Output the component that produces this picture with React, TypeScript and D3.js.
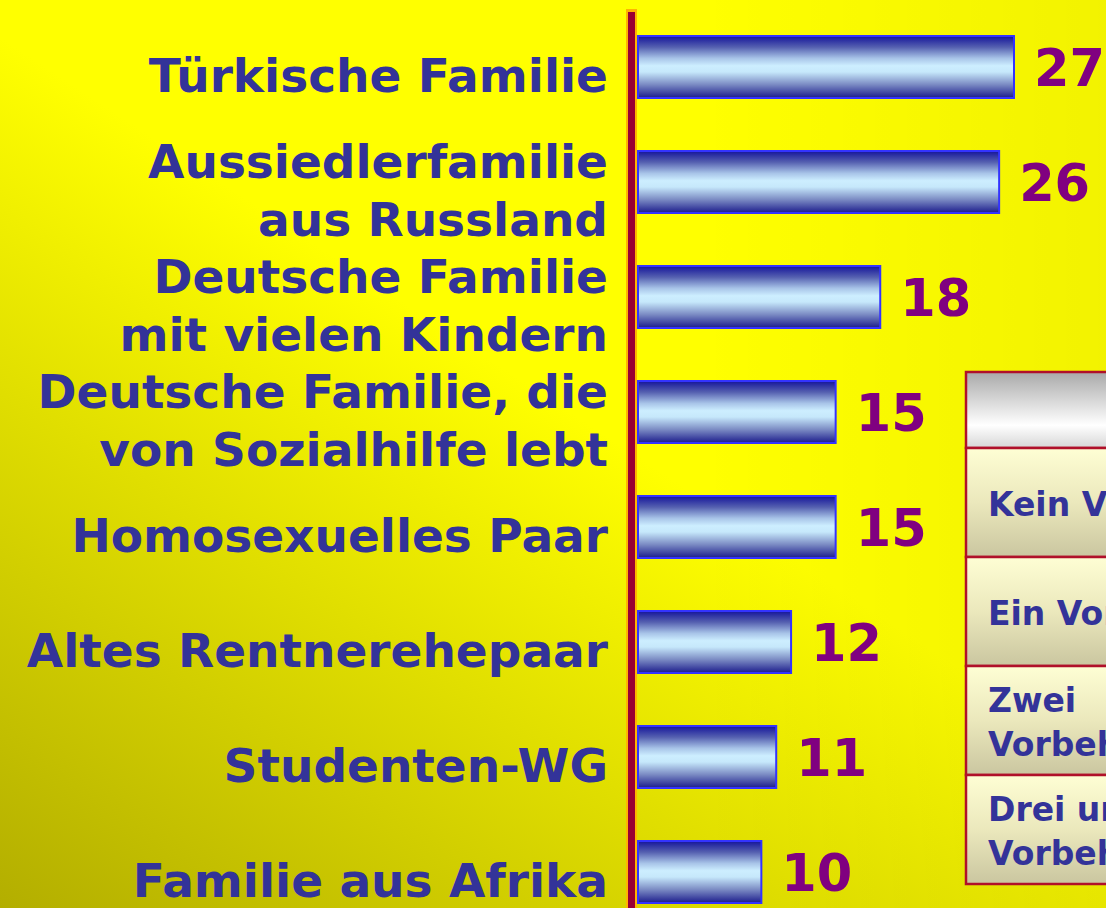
import React from "react";
import * as d3 from "d3";

const categories: string[][] = [
  ["Türkische Familie"],
  ["Aussiedlerfamilie", "aus Russland"],
  ["Deutsche Familie", "mit vielen Kindern"],
  ["Deutsche Familie, die", "von Sozialhilfe lebt"],
  ["Homosexuelles Paar"],
  ["Altes Rentnerehepaar"],
  ["Studenten-WG"],
  ["Familie aus Afrika"],
];
const values: number[] = [27, 26, 18, 15, 15, 12, 11, 10];
const tableRows: string[][] = [
  ["Kein Vorbehalt"],
  ["Ein Vorbehalt"],
  ["Zwei", "Vorbehalte"],
  ["Drei und mehr", "Vorbehalte"],
];

const W = 1106;
const H = 908;
const FONT = "'DejaVu Sans', Verdana, sans-serif";

export default function App() {
  const keys = categories.map((c) => c.join(" "));
  const x = d3.scaleLinear().domain([1.7, 27]).range([638, 1014]);
  const y = d3.scalePoint<string>().domain(keys).range([67, 872]);
  const barH = 62;
  const lineH = 58;

  const tX = 966, tY = 372, tW = 220, headH = 76, rowH = 109;

  return (
    <div style={{ position: "fixed", left: 0, top: 0, width: W, height: H, overflow: "hidden" }}>
      <svg width={W} height={H} style={{ display: "block" }}>
        <defs>
          <linearGradient id="bg" gradientUnits="userSpaceOnUse" x1={400} y1={300} x2={0} y2={908}>
            <stop offset="0" stopColor="#ffff00" />
            <stop offset="1" stopColor="#b3ae00" />
          </linearGradient>
          <linearGradient id="bgR" gradientUnits="userSpaceOnUse" x1={700} y1={0} x2={1106} y2={0}>
            <stop offset="0" stopColor="#000" stopOpacity={0} />
            <stop offset="1" stopColor="#000" stopOpacity={0.05} />
          </linearGradient>
          <linearGradient id="bar" x1="0" y1="0" x2="0" y2="1">
            <stop offset="0" stopColor="#14149a" />
            <stop offset="0.18" stopColor="#5560b0" />
            <stop offset="0.36" stopColor="#a8c4e8" />
            <stop offset="0.48" stopColor="#cdeeff" />
            <stop offset="0.58" stopColor="#c6e8fb" />
            <stop offset="0.78" stopColor="#7c8cc4" />
            <stop offset="1" stopColor="#1c1c8c" />
          </linearGradient>
          <linearGradient id="head" x1="0" y1="0" x2="0" y2="1">
            <stop offset="0" stopColor="#a9a9a9" />
            <stop offset="0.7" stopColor="#ffffff" />
            <stop offset="1" stopColor="#d6d6d6" />
          </linearGradient>
          <linearGradient id="row" x1="0" y1="0" x2="0" y2="1">
            <stop offset="0" stopColor="#fefed4" />
            <stop offset="0.5" stopColor="#ebe8bc" />
            <stop offset="1" stopColor="#cac6a0" />
          </linearGradient>
        </defs>
        <rect x={0} y={0} width={W} height={H} fill="url(#bg)" />
        <rect x={0} y={0} width={W} height={H} fill="url(#bgR)" />

        {/* axis line */}
        <rect x={626} y={9} width={11} height={H} fill="#ffb400" />
        <rect x={628} y={12} width={7} height={H} fill="#990033" />

        {/* bars */}
        {keys.map((k, i) => {
          const cy = y(k) as number;
          return (
            <g key={k}>
              <rect
                x={x(1.7)}
                y={cy - barH / 2}
                width={x(values[i]) - x(1.7)}
                height={barH}
                fill="url(#bar)"
                stroke="#3333ff"
                strokeWidth={2}
              />
              <text
                x={x(values[i]) + 20}
                y={cy + 19}
                fill="#800080"
                fontFamily={FONT}
                fontWeight="bold"
                fontSize={51}
              >
                {values[i]}
              </text>
              {categories[i].map((line, j) => (
                <text
                  key={j}
                  x={608}
                  y={cy + 25 + (j - (categories[i].length - 1) / 2) * lineH}
                  textAnchor="end"
                  fill="#333399"
                  fontFamily={FONT}
                  fontWeight="bold"
                  fontSize={47}
                >
                  {line}
                </text>
              ))}
            </g>
          );
        })}

        {/* table */}
        <rect x={tX} y={tY} width={tW} height={headH} fill="url(#head)" stroke="#b0102a" strokeWidth={2.5} />
        {tableRows.map((r, i) => {
          const ry = tY + headH + i * rowH;
          const cy = ry + rowH / 2;
          return (
            <g key={i}>
              <rect x={tX} y={ry} width={tW} height={rowH} fill="url(#row)" stroke="#b0102a" strokeWidth={2.5} />
              {r.map((line, j) => (
                <text
                  key={j}
                  x={tX + 22}
                  y={cy + 13 + (j - (r.length - 1) / 2) * 44}
                  fill="#333399"
                  fontFamily={FONT}
                  fontWeight="bold"
                  fontSize={33}
                >
                  {line}
                </text>
              ))}
            </g>
          );
        })}
      </svg>
    </div>
  );
}
